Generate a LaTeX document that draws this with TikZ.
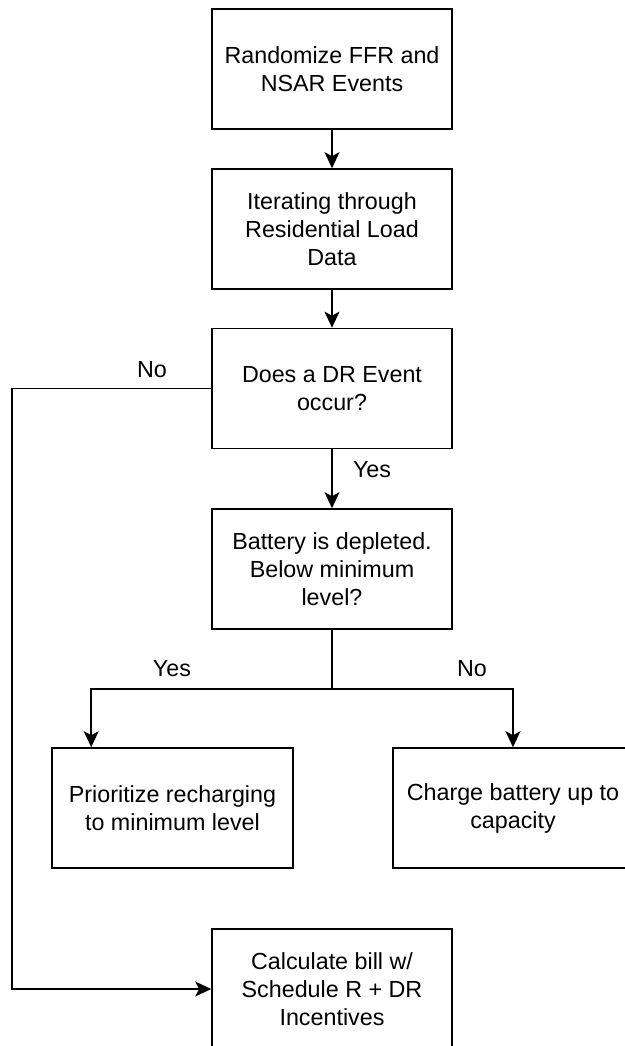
\documentclass[tikz,border=0pt]{standalone}
\usepackage{fontspec}
\setmainfont{Liberation Sans}
\usetikzlibrary{arrows.meta}
\begin{document}
\begin{tikzpicture}[x=1pt,y=-1pt,
  stepbox/.style={draw, line width=1.6pt, minimum width=240pt, minimum height=120pt,
    align=center, inner sep=0pt, font=\fontsize{23.3}{28}\selectfont},
  arrow/.style={line width=1.5pt, -{Stealth[length=16pt,width=15pt,inset=4pt]}},
  plain/.style={line width=1.5pt},
  lbl/.style={font=\fontsize{23.3}{28}\selectfont, inner sep=0pt}]
\useasboundingbox (0,0) rectangle (624,1046);
\node[stepbox] (b1) at (332,69) {Randomize FFR and\\NSAR Events};
\node[stepbox] (b2) at (332,229) {Iterating through\\Residential Load\\Data};
\node[stepbox] (b3) at (332,388.5) {Does a DR Event\\occur?};
\node[stepbox] (b4) at (332,569) {Battery is depleted.\\Below minimum\\level?};
\node[stepbox, minimum width=241pt] (b5) at (172.5,808) {Prioritize recharging\\to minimum level};
\node[stepbox] (b6) at (513,808) {Charge battery up to\\capacity};
\node[stepbox] (b7) at (332,989) {Calculate bill w/\\Schedule R + DR\\Incentives};
\coordinate (br) at (332,689);
\coordinate (nl) at (12,388.5);
\draw[arrow] (b1.south) -- (b2.north);
\draw[arrow] (b2.south) -- (b3.north);
\draw[arrow] (b3.south) -- (b4.north);
\draw[plain] (b4.south) -- (br);
\draw[arrow] (br) -| ([xshift=40pt]b5.north west);
\draw[arrow] (br) -| (b6.north);
\draw[arrow] (b3.west) -- (nl) |- (b7.west);
\node[lbl] (l1) at (152,370) {No};
\node[lbl] (l2) at (372,470) {Yes};
\node[lbl] (l3) at (172,669) {Yes};
\node[lbl] (l4) at (472,669) {No};
\end{tikzpicture}
\end{document}
